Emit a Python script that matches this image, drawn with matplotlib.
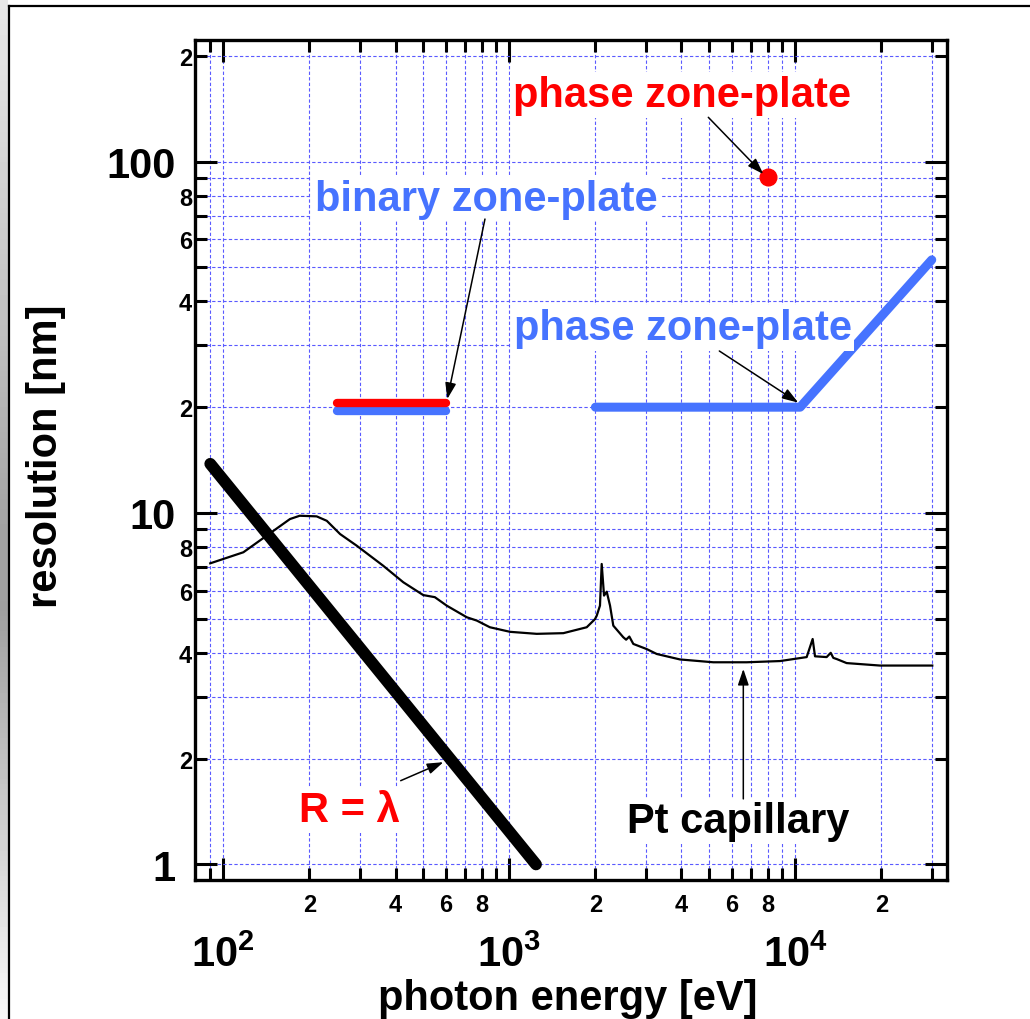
import numpy as np
import matplotlib
matplotlib.use("Agg")
import matplotlib.pyplot as plt
from matplotlib.ticker import FixedLocator, FixedFormatter

plt.rcParams['font.family'] = ['Liberation Sans', 'DejaVu Sans']
plt.rcParams['font.weight'] = 'bold'
plt.rcParams['mathtext.fontset'] = 'custom'
plt.rcParams['mathtext.rm'] = 'Liberation Sans:bold'
plt.rcParams['mathtext.bf'] = 'Liberation Sans:bold'

# ---- data (photon energy in eV, resolution in nm) ----
lambda_energy = [90, 1240]
lambda_res = [13.8, 1.0]

binary_zp_energy = [250, 600]
binary_zp_red = [20.5, 20.5]
binary_zp_blue = [19.5, 19.5]

phase_zp_energy = [2000, 10400, 30000]
phase_zp_res = [20, 20, 52.5]

phase_zp_dot_energy = [8000]
phase_zp_dot_res = [90.5]

pt_energy = [90, 117.5, 141.8, 171, 185, 212, 230, 256, 292.7, 362, 426, 500, 549,
             604, 710, 770, 855, 1006, 1247, 1545, 1865, 1994, 2021, 2075, 2104,
             2144, 2191, 2250, 2310, 2503, 2561, 2628, 2714, 3022, 3277, 3954,
             5168, 6761, 8843, 10960, 11500, 11720, 12870, 13300, 13580, 13960,
             15120, 19780, 30130]
pt_res = [7.19, 7.73, 8.62, 9.61, 9.82, 9.78, 9.5, 8.71, 8.07, 7.08, 6.35, 5.84, 5.76,
          5.45, 5.05, 4.94, 4.73, 4.59, 4.53, 4.55, 4.73, 4.99, 5.10, 5.45, 7.16,
          5.82, 5.97, 5.45, 4.78, 4.43, 4.36, 4.45, 4.24, 4.10, 3.97, 3.83,
          3.76, 3.76, 3.79, 3.89, 4.38, 3.91, 3.89, 4.0, 3.87, 3.84,
          3.74, 3.68, 3.68]

x_major = [100, 1000, 10000]
x_major_labels = [r'$\mathbf{10^{2}}$', r'$\mathbf{10^{3}}$', r'$\mathbf{10^{4}}$']
y_major = [1, 10, 100]
y_major_labels = ['1', '10', '100']

BLUE = '#4673ff'
RED = '#ff0000'
GRID = '#5a5aff'

fig = plt.figure(figsize=(10.3, 10.2), dpi=100)

# gray strip and frame on the left/top
bg = fig.add_axes([0, 0, 8 / 1030, 1])
shade = np.interp(np.linspace(0, 1, 200), [0, 0.3, 0.5, 0.6, 1.0], [232, 195, 165, 160, 248])
bg.imshow(shade[:, None], cmap='gray', vmin=0, vmax=255, aspect='auto', extent=[0, 1, 0, 1])
bg.set_axis_off()
fig.add_artist(plt.Line2D([9 / 1030, 9 / 1030], [0, 1 - 6.7 / 1020], color='black', lw=1.6,
                          transform=fig.transFigure))
fig.add_artist(plt.Line2D([9 / 1030, 1], [1 - 6.7 / 1020, 1 - 6.7 / 1020], color='black', lw=1.6,
                          transform=fig.transFigure))

ax = fig.add_axes([195 / 1030, 1 - 881 / 1020, 751.7 / 1030, 840 / 1020])
ax.set_xscale('log')
ax.set_yscale('log')
ax.set_xlim(79.6, 33840)
ax.set_ylim(0.903, 221.7)


def minor_ticks(lo, hi):
    vals, labs = [], []
    for k in range(-1, 6):
        for d in range(2, 10):
            v = d * 10 ** k
            if lo * 1.02 <= v <= hi:
                vals.append(v)
                labs.append(str(d) if d in (2, 4, 6, 8) else '')
    return vals, labs


xm, xml = minor_ticks(79.6, 33840)
ym, yml = minor_ticks(0.903, 221.7)
ax.xaxis.set_major_locator(FixedLocator(x_major))
ax.xaxis.set_major_formatter(FixedFormatter(x_major_labels))
ax.xaxis.set_minor_locator(FixedLocator(xm))
ax.xaxis.set_minor_formatter(FixedFormatter(xml))
ax.yaxis.set_major_locator(FixedLocator(y_major))
ax.yaxis.set_major_formatter(FixedFormatter(y_major_labels))
ax.yaxis.set_minor_locator(FixedLocator(ym))
ax.yaxis.set_minor_formatter(FixedFormatter(yml))

ax.tick_params(which='both', direction='in', top=True, right=True, width=2.2, color='black')
ax.tick_params(which='major', length=16)
ax.tick_params(which='minor', length=8.5)
ax.tick_params(axis='x', which='major', labelsize=30, pad=39)
ax.tick_params(axis='x', which='minor', labelsize=17, pad=9)
ax.tick_params(axis='y', which='major', labelsize=30, pad=14)
ax.tick_params(axis='y', which='minor', labelsize=17, pad=2)
for s in ax.spines.values():
    s.set_linewidth(2.4)

ax.set_axisbelow(True)
ax.grid(which='both', color=GRID, ls=(0, (3, 2)), lw=0.8)

# curves
ax.plot(pt_energy, pt_res, color='black', lw=1.6, zorder=3)
ax.plot(lambda_energy, lambda_res, color='black', lw=8.5, solid_capstyle='round', zorder=4)
ax.plot(binary_zp_energy, binary_zp_blue, color=BLUE, lw=6, solid_capstyle='round', zorder=4)
ax.plot(binary_zp_energy, binary_zp_red, color=RED, lw=6, solid_capstyle='round', zorder=5)
ax.plot(phase_zp_energy, phase_zp_res, color=BLUE, lw=6.5, solid_capstyle='round',
        solid_joinstyle='round', zorder=4)
ax.plot(phase_zp_dot_energy, phase_zp_dot_res, 'o', color=RED, ms=12, zorder=5)

box = dict(facecolor='white', edgecolor='none', pad=2)
labels = [
    ('phase zone-plate', RED, 4020, 144.1),
    ('binary zone-plate', BLUE, 832, 73.0),
    ('phase zone-plate', BLUE, 4033, 31.2),
    ('R = λ', RED, 276.7, 1.332),
    ('Pt capillary', 'black', 6305, 1.237),
]
for txt, col, ex, ry in labels:
    ax.text(ex, ry, txt, color=col, fontsize=30, fontweight='bold', ha='center',
            va='baseline', bbox=box, zorder=6)

arrows = [
    ((7730, 92.1), (4964, 133.6)),
    ((607, 21.1), (822, 68.6)),
    ((10245, 20.6), (5424, 28.9)),
    ((588, 1.954), (417, 1.731)),
    ((6580, 3.6), (6580, 1.536)),
]
for head, tail in arrows:
    ax.annotate('', xy=head, xytext=tail, zorder=7,
                arrowprops=dict(arrowstyle='-|>,head_length=0.65,head_width=0.22',
                                color='black', lw=1.1, mutation_scale=15,
                                shrinkA=0, shrinkB=0))

ax.text(0.4955, -0.1536, 'photon energy [eV]', transform=ax.transAxes, fontsize=30,
        fontweight='bold', ha='center', va='baseline')
ax.text(-0.198, 0.506, 'resolution [nm]', transform=ax.transAxes, fontsize=30,
        fontweight='bold', ha='center', va='center', rotation=90)

fig.savefig('out.png', dpi=100)
